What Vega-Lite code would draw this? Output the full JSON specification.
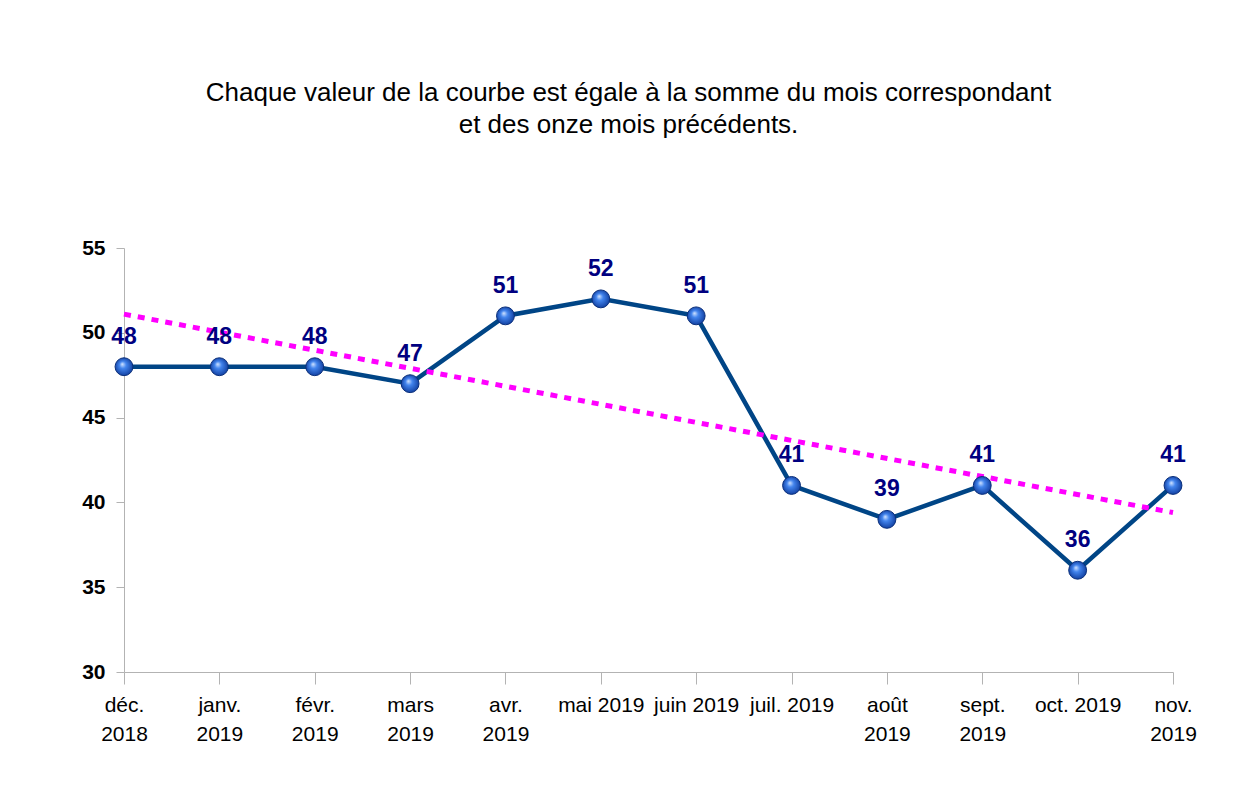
{
  "$schema": "https://vega.github.io/schema/vega-lite/v6.json",
  "autosize": {"type": "none"},
  "padding": {"left": 124, "top": 248, "right": 69, "bottom": 128},
  "width": 1049,
  "height": 424,
  "background": "white",
  "title": {
    "text": ["Chaque valeur de la courbe est égale à la somme du mois correspondant", "et des onze mois précédents."],
    "font": "Liberation Sans",
    "fontSize": 26,
    "fontWeight": "normal",
    "color": "black",
    "lineHeight": 32,
    "anchor": "middle",
    "frame": "group",
    "dx": -20,
    "offset": 99
  },
  "datasets": {
    "serie": [
      {"mois": "déc. 2018", "valeur": 48},
      {"mois": "janv. 2019", "valeur": 48},
      {"mois": "févr. 2019", "valeur": 48},
      {"mois": "mars 2019", "valeur": 47},
      {"mois": "avr. 2019", "valeur": 51},
      {"mois": "mai 2019", "valeur": 52},
      {"mois": "juin 2019", "valeur": 51},
      {"mois": "juil. 2019", "valeur": 41},
      {"mois": "août 2019", "valeur": 39},
      {"mois": "sept. 2019", "valeur": 41},
      {"mois": "oct. 2019", "valeur": 36},
      {"mois": "nov. 2019", "valeur": 41}
    ],
    "tendance": [
      {"mois": "déc. 2018", "valeur": 51.1},
      {"mois": "nov. 2019", "valeur": 39.4}
    ]
  },
  "encoding": {
    "x": {
      "field": "mois",
      "type": "ordinal",
      "sort": null,
      "scale": {"type": "point", "padding": 0, "domain": ["déc. 2018", "janv. 2019", "févr. 2019", "mars 2019", "avr. 2019", "mai 2019", "juin 2019", "juil. 2019", "août 2019", "sept. 2019", "oct. 2019", "nov. 2019"]},
      "axis": {
        "title": null,
        "labelAngle": 0,
        "labelExpr": "indexof(['mai 2019','juin 2019','juil. 2019','oct. 2019'], datum.value) >= 0 ? datum.value : split(datum.value, ' ')",
        "labelFont": "Liberation Sans",
        "labelFontSize": 21,
        "labelColor": "black",
        "labelLineHeight": 29,
        "labelPadding": 10,
        "labelOverlap": false,
        "tickSize": 12,
        "tickColor": "#b3b3b3",
        "domainColor": "#b3b3b3",
        "grid": false
      }
    },
    "y": {
      "field": "valeur",
      "type": "quantitative",
      "scale": {"domain": [30, 55], "nice": false, "zero": false},
      "axis": {
        "title": null,
        "values": [30, 35, 40, 45, 50, 55],
        "labelFont": "Liberation Sans",
        "labelFontSize": 21,
        "labelFontWeight": "bold",
        "labelColor": "black",
        "labelPadding": 11,
        "tickSize": 8,
        "tickColor": "#b3b3b3",
        "domainColor": "#b3b3b3",
        "grid": false
      }
    }
  },
  "layer": [
    {
      "data": {"name": "serie"},
      "mark": {"type": "line", "color": "#004586", "strokeWidth": 4.5}
    },
    {
      "data": {"name": "tendance"},
      "mark": {"type": "line", "color": "#ff00ff", "strokeWidth": 5, "strokeDash": [7, 7]}
    },
    {
      "data": {"name": "serie"},
      "mark": {
        "type": "point",
        "shape": "circle",
        "size": 320,
        "filled": true,
        "opacity": 1,
        "fill": {
          "gradient": "radial",
          "x1": 0.4, "y1": 0.35, "r1": 0,
          "x2": 0.5, "y2": 0.5, "r2": 0.55,
          "stops": [
            {"offset": 0, "color": "#d6e6ff"},
            {"offset": 0.35, "color": "#4385ee"},
            {"offset": 1, "color": "#0d3a9a"}
          ]
        },
        "stroke": "#0b2f7a",
        "strokeWidth": 1
      }
    },
    {
      "data": {"name": "serie"},
      "mark": {"type": "text", "dy": -30, "font": "Liberation Sans", "fontSize": 23, "fontWeight": "bold", "color": "#000080"},
      "encoding": {"text": {"field": "valeur", "type": "quantitative"}}
    }
  ],
  "config": {"view": {"stroke": null}}
}
